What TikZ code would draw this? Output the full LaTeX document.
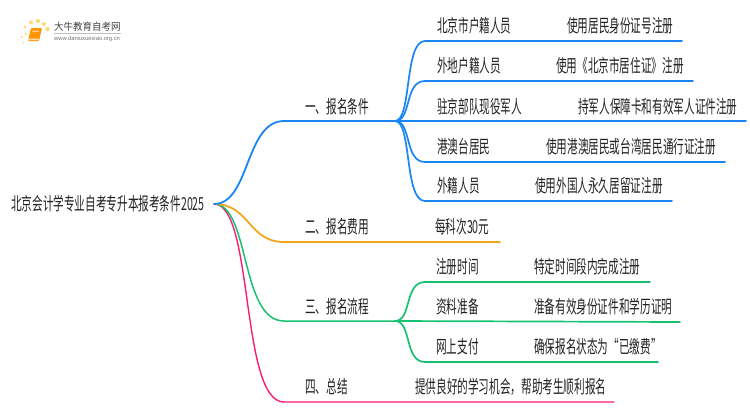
\documentclass[tikz,border=0pt]{standalone}
\usepackage{fontspec}
\setmainfont{Noto Sans CJK SC}[FakeStretch=0.59]
\newfontfamily\logofont{Noto Sans CJK SC}[FakeStretch=0.95]
\newfontfamily\urlfont{Liberation Sans}
\definecolor{cblue}{HTML}{1A86F5}
\definecolor{corange}{HTML}{F2A71B}
\definecolor{cgreen}{HTML}{16C172}
\definecolor{cpink}{HTML}{FF1A75}
\definecolor{ctext}{HTML}{222222}
\definecolor{cdot}{HTML}{FFD97A}
\tikzset{
  lbl/.style={anchor=west,inner sep=0pt,text=ctext,font=\fontsize{18}{19}\selectfont},
  trunk/.style={line width=1.8pt,line cap=round},
  twig/.style={line width=1.7pt,line cap=round},
}
\begin{document}
\begin{tikzpicture}[x=1pt,y=-1pt]
\useasboundingbox (0,0) rectangle (750,410);
% logo
\foreach \px/\py/\r in {25/27/1.6,26/34/1.3,22/37/1.1,23.5/43/.8,31/22.5/2,38/21/2.1,44/24/2,47.5/29/2.2}
  \fill[cdot] (\px,\py) circle (\r);
\fill[rounded corners=1pt,fill=orange!85!yellow] (31,28) -- (42,28) -- (39,41) -- (28,41) -- cycle;
\fill[white,opacity=.7] (28.3,40) -- (38.5,40) -- (38.9,38.5) -- (28.7,38.5) -- cycle;
\fill[white,opacity=.55] (32.5,30.5) -- (39,30.5) -- (38.6,32.2) -- (32.1,32.2) -- cycle;
\node[anchor=west,inner sep=0pt,text=black!75,font=\logofont\fontsize{10}{11}\selectfont] (logotitle) at (54,27) {大牛教育自考网};
\draw[black!25,line width=.5pt] (54,33.3) -- (121,33.3);
\node[anchor=west,inner sep=0pt,text=black!55,font=\urlfont\fontsize{5.8}{6}\selectfont] (logourl) at (54,38.7) {www.daniuxuexiao.org.cn};
% anchors
\coordinate (r) at (214,204);
\coordinate (a1) at (284,121); \coordinate (a2) at (395,121);
\coordinate (b1) at (284,242); \coordinate (b2) at (500,242);
\coordinate (c1) at (284,321); \coordinate (c2) at (395,321);
\coordinate (d1) at (284,402); \coordinate (d2) at (614,402);
% order: pink beneath
\draw[trunk,cpink,line width=1.4pt] (r) .. controls (254,204) and (240,402) .. (d1) -- (d2);
\draw[trunk,cgreen,line width=1.5pt] (r) .. controls (250,204) and (240,321) .. (c1) -- (c2);
\draw[trunk,corange] (r) .. controls (250,204) and (248,242) .. (b1) -- (b2);
\draw[trunk,cblue] (r) .. controls (250,204) and (245,121) .. (a1) -- (a2);
% leaves blue
\foreach \n/\yy/\xe in {1/41/682,2/81/693,4/162/725,5/201/672}{
  \coordinate (la\n) at (425,\yy); \coordinate (ea\n) at (\xe,\yy);
  \draw[twig,cblue] (a2) .. controls (412,121) and (404,\yy) .. (la\n) -- (ea\n);
}
\coordinate (ea3) at (746,121);
\draw[twig,cblue] (a2) -- (ea3);
% leaves green
\foreach \n/\yy/\xe in {1/282/650,3/362/658}{
  \coordinate (lc\n) at (425,\yy); \coordinate (ec\n) at (\xe,\yy);
  \draw[twig,cgreen] (c2) .. controls (412,321) and (404,\yy) .. (lc\n) -- (ec\n);
}
\coordinate (ec2) at (680,322);
\draw[twig,cgreen] (c2) -- (ec2);
% texts
\node[lbl] (root) at (11,204) {北京会计学专业自考专升本报考条件2025};
\node[lbl] (t1) at (305,107) {一、报名条件};
\node[lbl] (t2) at (305,227) {二、报名费用};
\node[lbl] (t3) at (305,307) {三、报名流程};
\node[lbl] (t4) at (305,387) {四、总结};
\node[lbl] (p1) at (437,26) {北京市户籍人员};
\node[lbl] (q1) at (567,26) {使用居民身份证号注册};
\node[lbl] (p2) at (437,66) {外地户籍人员};
\node[lbl] (q2) at (556,66) {使用《北京市居住证》注册};
\node[lbl] (p3) at (437,107) {驻京部队现役军人};
\node[lbl] (q3) at (578,107) {持军人保障卡和有效军人证件注册};
\node[lbl] (p4) at (437,147) {港澳台居民};
\node[lbl] (q4) at (546,147) {使用港澳居民或台湾居民通行证注册};
\node[lbl] (p5) at (437,186) {外籍人员};
\node[lbl] (q5) at (535,186) {使用外国人永久居留证注册};
\node[lbl] (f1) at (435,227) {每科次30元};
\node[lbl] (u1) at (436,267) {注册时间};
\node[lbl] (v1) at (534,267) {特定时间段内完成注册};
\node[lbl] (u2) at (436,307) {资料准备};
\node[lbl] (v2) at (534,307) {准备有效身份证件和学历证明};
\node[lbl] (u3) at (436,347) {网上支付};
\node[lbl] (v3) at (534,347) {确保报名状态为“已缴费”};
\node[lbl] (s1) at (415,387) {提供良好的学习机会，帮助考生顺利报名};
\end{tikzpicture}
\end{document}
